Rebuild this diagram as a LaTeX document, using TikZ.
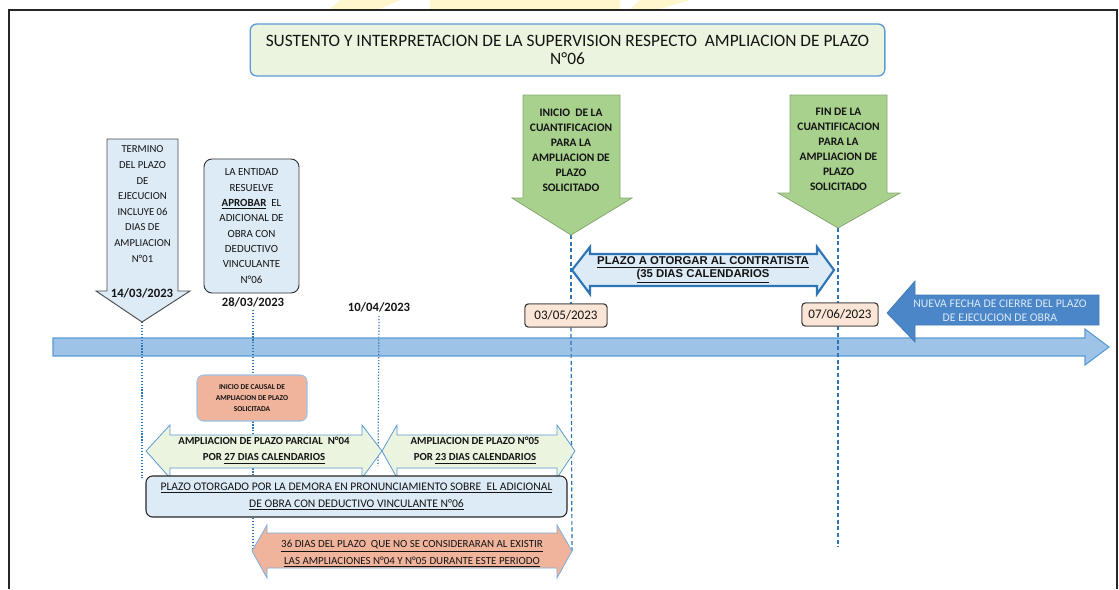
\documentclass[tikz,border=0pt]{standalone}
\usepackage{fontspec}
\setmainfont{Carlito}
\newfontfamily\arialfont{Liberation Sans}
\definecolor{lblue}{HTML}{DDEBF7}
\definecolor{lgreen}{HTML}{EBF4DF}
\definecolor{garrow}{HTML}{A9D18E}
\definecolor{tblue}{HTML}{9DC3E6}
\definecolor{bborder}{HTML}{5B9BD5}
\definecolor{dblue}{HTML}{4A86C8}
\definecolor{lineblue}{HTML}{2E75B6}
\definecolor{salmon}{HTML}{F0B49C}
\definecolor{peach}{HTML}{FBE5D6}
\definecolor{ink}{HTML}{141414}
\definecolor{wmark}{HTML}{FFF6CC}
\tikzset{
  frame/.style={draw=black!85, line width=1.1pt},
  txt/.style={align=center, inner sep=0pt, text=ink},
  dotline/.style={draw=lineblue, line width=0.9pt, dash pattern=on 0.9pt off 1.3pt},
  dashline/.style={draw=lineblue, line width=0.9pt, dash pattern=on 3pt off 2pt},
  datebox/.style={draw=black!80, fill=peach, rounded corners=2.5pt, line width=0.7pt, minimum height=17.25pt, inner sep=0pt, text=ink, font=\fontsize{9.8}{11}\selectfont},
  datelbl/.style={txt, font=\bfseries\fontsize{9.5}{10}\selectfont},
  timeline/.style={draw=bborder, fill=tblue, line width=0.8pt},
  greenarrow/.style={draw=garrow!80!black, fill=garrow, line width=0.6pt},
}
\begin{document}
\begin{tikzpicture}[x=0.75pt,y=-0.75pt]
\useasboundingbox (0,0) rectangle (1119,589);
% faint watermark at the top edge
\begin{scope}
\clip (300,0) rectangle (700,9);
\fill[wmark] (340,0) -- (400,0) -- (380,9) -- (330,9) -- cycle;
\fill[wmark] (430,0) rectangle (620,9);
\fill[wmark] (640,0) -- (690,0) -- (660,9) -- (630,9) -- cycle;
\end{scope}
% frame
\draw[frame] (9,589) -- (9,10) -- (1117,10) -- (1117,589);

% title
\node[draw=bborder, fill=lgreen, rounded corners=5pt, line width=1pt, minimum width=476pt, minimum height=39pt, inner sep=0pt, txt, font=\fontsize{13}{13.5}\selectfont] (title) at (567.5,50)
  {SUSTENTO Y INTERPRETACION DE LA SUPERVISION RESPECTO\ \ AMPLIACION DE PLAZO\\N°06};

% timeline
\draw[timeline] (53,338) -- (1085,338) -- (1085,329) -- (1109,347) -- (1085,365) -- (1085,356) -- (53,356) -- cycle;
\coordinate (tl) at (53,347);

% coordinates for connector ends
\coordinate (tipA) at (142,322);
\coordinate (tipG1) at (571,235);
\coordinate (tipG2) at (838,228);

% lower shapes coordinates
\coordinate (c4L) at (146,451);
\coordinate (c4R) at (382,451);
\coordinate (c5R) at (575,451);
\coordinate (c36L) at (252,551);
\coordinate (c36R) at (572,551);
\coordinate (end838) at (838,547);
\coordinate (end378) at (378,466);

% dates
\node[datelbl] (d2803) at (253,302) {28/03/2023};
\node[datelbl] (d1004) at (379,307) {10/04/2023};
\node[datebox, minimum width=61.5pt] (d0305) at (566,315.5) {03/05/2023};
\node[datebox, minimum width=57pt] (d0706) at (840,314.5) {07/06/2023};

% plazo otorgado box coordinate for line end
\coordinate (potop) at (142,478);

% connectors (behind shapes)
\draw[dotline] (tipA) -- (potop);
\draw[dotline] (d2803.south -| 253,0) ++(0,3) -- (c36L -| 253,0);
\draw[dotline] (d1004.south) ++(0,4) -- (end378);
\draw[dashline] (tipG1) -- (tipG1 |- d0305.north);
\draw[dashline] (tipG1 |- d0305.south) -- (c36R);
\draw[dashline] (tipG2) -- (tipG2 |- d0706.north);
\draw[dashline] (tipG2 |- d0706.south) -- (end838);
\node[datebox, minimum width=61.5pt] at (d0305) {03/05/2023};
\node[datebox, minimum width=57pt] at (d0706) {07/06/2023};

% left arrow
\draw[draw=black!70, fill=lblue, line width=0.7pt] (107,139) -- (178,139) -- (178,291) -- (190,291) -- (tipA) -- (96,291) -- (107,291) -- cycle;
\node[txt, font=\fontsize{8}{11.7}\selectfont] (termino) at (142.5,204)
  {TERMINO\\DEL PLAZO\\DE\\EJECUCION\\INCLUYE 06\\DIAS DE\\AMPLIACION\\N°01};
\node[datelbl] (d1403) at (142,293) {14/03/2023};

% la entidad box
\node[draw=black!80, fill=lblue, rounded corners=6pt, line width=0.7pt, minimum width=71.25pt, minimum height=100.5pt, inner sep=0pt, txt, font=\fontsize{8.2}{11.5}\selectfont] (entidad) at (251.5,226)
  {LA ENTIDAD\\RESUELVE\\\textbf{\underline{APROBAR}}\ \ EL\\ADICIONAL DE\\OBRA CON\\DEDUCTIVO\\VINCULANTE\\N°06};

% green arrows
\draw[greenarrow] (523,95) -- (620,95) -- (620,198) -- (632,198) -- (tipG1) -- (512,198) -- (523,198) -- cycle;
\node[txt, font=\bfseries\fontsize{8.6}{11.3}\selectfont] (inicio) at (571,150)
  {INICIO\ \ DE LA\\CUANTIFICACION\\PARA LA\\AMPLIACION DE\\PLAZO\\SOLICITADO};
\draw[greenarrow] (790,95) -- (887,95) -- (887,193) -- (900,193) -- (tipG2) -- (778,193) -- (790,193) -- cycle;
\node[txt, font=\bfseries\fontsize{8.6}{11.3}\selectfont] (fin) at (838.5,149)
  {FIN DE LA\\CUANTIFICACION\\PARA LA\\AMPLIACION DE\\PLAZO\\SOLICITADO};

% blue double arrow
\draw[draw=lineblue, fill=lblue, line width=1.6pt, line join=miter] (572,270) -- (590,247) -- (590,254) -- (817,254) -- (817,247) -- (834,270) -- (817,294) -- (817,286) -- (590,286) -- (590,294) -- cycle;
\node[txt, font=\arialfont\bfseries\fontsize{8.5}{9.8}\selectfont] (otorgar) at (703,270)
  {\underline{PLAZO A OTORGAR AL CONTRATISTA}\\\underline{(35 DIAS CALENDARIOS}};

% dark blue arrow
\draw[draw=dblue!90!black, fill=dblue, line width=0.5pt] (887,313) -- (915,281) -- (915,295) -- (1099,295) -- (1099,325) -- (915,325) -- (915,342) -- cycle;
\node[txt, text=lblue, font=\fontsize{8.8}{10.5}\selectfont] (nueva) at (1000,311)
  {NUEVA FECHA DE CIERRE DEL PLAZO\\DE EJECUCION DE OBRA};

% causal box
\node[draw=tblue, fill=salmon, rounded corners=5pt, line width=0.8pt, minimum width=82.5pt, minimum height=34.5pt, inner sep=0pt, txt, font=\bfseries\fontsize{5.6}{8.4}\selectfont] (causal) at (252,398)
  {INICIO DE CAUSAL DE\\AMPLIACION DE PLAZO\\SOLICITADA};

% ampliacion 04
\draw[draw=bborder, fill=lgreen, line width=0.6pt] (c4L) -- (170,425) -- (170,435) -- (362,435) -- (362,425) -- (c4R) -- (362,478) -- (362,468) -- (170,468) -- (170,478) -- cycle;
\node[txt, font=\bfseries\fontsize{8.1}{12}\selectfont] (a04) at (264,450.5)
  {AMPLIACION DE PLAZO PARCIAL\ \ N°04\\POR \underline{27 DIAS CALENDARIOS}};
% ampliacion 05
\draw[draw=bborder, fill=lgreen, line width=0.6pt] (c4R) -- (397,425) -- (397,435) -- (557,435) -- (557,425) -- (c5R) -- (557,478) -- (557,468) -- (397,468) -- (397,478) -- cycle;
\node[txt, font=\bfseries\fontsize{8.1}{12}\selectfont] (a05) at (475,450.5)
  {AMPLIACION DE PLAZO N°05\\POR \underline{23 DIAS CALENDARIOS}};

% plazo otorgado box
\node[draw=black!85, fill=lblue, rounded corners=5pt, line width=0.8pt, minimum width=315.75pt, minimum height=30.75pt, inner sep=0pt, txt, font=\fontsize{8.7}{12.5}\selectfont] (potorgado) at (356.5,496.5)
  {\underline{PLAZO OTORGADO POR LA DEMORA EN PRONUNCIAMIENTO SOBRE\ \ EL ADICIONAL}\\\underline{DE OBRA CON DEDUCTIVO VINCULANTE N°06}};

% 36 dias arrow
\draw[draw=bborder!80, fill=salmon, line width=0.6pt] (c36L) -- (267,525) -- (267,533) -- (557,533) -- (557,525) -- (c36R) -- (557,578) -- (557,568) -- (267,568) -- (267,578) -- cycle;
\node[txt, font=\fontsize{8.2}{12.5}\selectfont] (d36) at (412,554)
  {\underline{36 DIAS DEL PLAZO\ \ QUE NO SE CONSIDERARAN AL EXISTIR}\\\underline{LAS AMPLIACIONES N°04 Y N°05 DURANTE ESTE PERIODO}};
\end{tikzpicture}
\end{document}
